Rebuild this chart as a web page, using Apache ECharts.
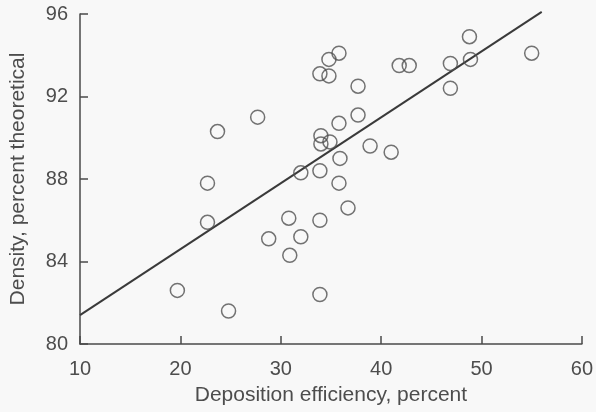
<!DOCTYPE html>
<html>
<head>
<meta charset="utf-8">
<script src="https://cdn.jsdelivr.net/npm/echarts@6/dist/echarts.min.js"></script>
<style>
html,body{margin:0;padding:0;background:#f8f8f8;}
#c{width:596px;height:412px;}
</style>
</head>
<body>
<div id="c"></div>
<script>
// Deposition efficiency (percent)
const efficiency = [19.7, 22.7, 22.7, 23.7, 24.8, 27.7, 28.8, 30.8, 30.9, 32.0, 32.0, 33.9, 33.9, 33.9, 33.9, 34.0, 34.0, 34.8, 34.8, 34.9, 35.8, 35.8, 35.8, 35.9, 36.7, 37.7, 37.7, 38.9, 41.0, 41.8, 42.8, 46.9, 46.9, 48.8, 48.9, 55.0];
// Density (percent theoretical)
const density = [82.6, 87.8, 85.9, 90.3, 81.6, 91.0, 85.1, 86.1, 84.3, 85.2, 88.3, 86.0, 82.4, 88.4, 93.1, 90.1, 89.7, 93.8, 93.0, 89.8, 94.1, 90.7, 87.8, 89.0, 86.6, 92.5, 91.1, 89.6, 89.3, 93.5, 93.5, 93.6, 92.4, 94.9, 93.8, 94.1];
// Fitted line end points
const fitX = [10, 56];
const fitY = [81.4, 96.1];
const xTicks = [10, 20, 30, 40, 50, 60];
const yTicks = [80, 84, 88, 92, 96];

const ink = '#4a4a4a';
const txt = '#4d4d4d';
const font = 'Liberation Sans, Arial, sans-serif';

const chart = echarts.init(document.getElementById('c'));
chart.setOption({
  backgroundColor: '#f8f8f8',
  animation: false,
  grid: {left: 80, right: 14, top: 14, bottom: 68},
  xAxis: {
    type: 'value', min: xTicks[0], max: xTicks[xTicks.length-1], interval: 10,
    name: 'Deposition efficiency, percent', nameLocation: 'middle', nameGap: 41,
    nameTextStyle: {fontSize: 21, color: txt, fontFamily: font},
    axisLine: {lineStyle: {color: ink, width: 1.5}},
    axisTick: {inside: true, length: 8, lineStyle: {color: ink, width: 1.5}},
    axisLabel: {fontSize: 20, color: txt, fontFamily: font, margin: 15},
    splitLine: {show: false}
  },
  yAxis: {
    type: 'value', min: yTicks[0], max: yTicks[yTicks.length-1], interval: 4,
    name: 'Density, percent theoretical', nameLocation: 'middle', nameGap: 51,
    nameTextStyle: {fontSize: 21, color: txt, fontFamily: font},
    axisLine: {show: true, lineStyle: {color: ink, width: 1.5}},
    axisTick: {show: true, inside: true, length: 8, lineStyle: {color: ink, width: 1.5}},
    axisLabel: {fontSize: 20, color: txt, fontFamily: font, margin: 12},
    splitLine: {show: false}
  },
  series: [
    {
      type: 'line', data: fitX.map((x, i) => [x, fitY[i]]), clip: false,
      symbol: 'none', lineStyle: {color: '#3a3a3a', width: 2}, z: 2
    },
    {
      type: 'scatter', data: efficiency.map((x, i) => [x, density[i]]),
      symbol: 'circle', symbolSize: 14,
      itemStyle: {color: 'rgba(0,0,0,0)', borderColor: '#505050', borderWidth: 1.5},
      z: 3
    }
  ]
});
</script>
</body>
</html>
